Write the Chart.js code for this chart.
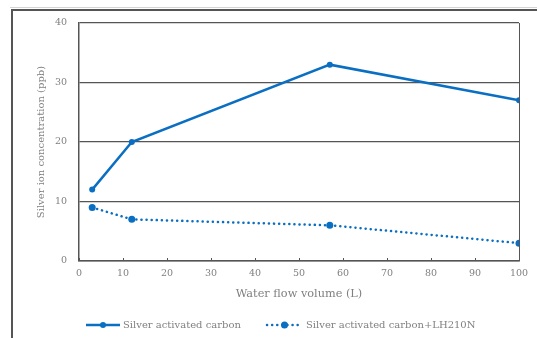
<!DOCTYPE html>
<html>
<head>
<meta charset="utf-8">
<script src="https://cdn.jsdelivr.net/npm/chart.js@4/dist/chart.umd.min.js"></script>
<style>
    html, body { margin: 0; padding: 0; background: #fff; }
    #wrap { position: relative; width: 537px; height: 338px; overflow: hidden; }
    #frameTop { position: absolute; left: 10px; top: 7px; width: 540px; height: 1px; background: #d4d4d4; }
    #frame { position: absolute; left: 11px; top: 9px; width: 540px; height: 340px; border-left: 2px solid #555; border-top: 2px solid #555; }
    #chart { position: absolute; left: 0; top: 0; }
</style>
</head>
<body>
<div id="wrap">
    <div id="frameTop"></div>
    <div id="frame"></div>
    <canvas id="chart" width="537" height="338"></canvas>
</div>
<script>
    // 資料
    const flowVolume = [3, 12, 57, 100];          // Water flow volume (L)
    const silverCarbon = [12, 20, 33, 27];        // Silver activated carbon
    const silverCarbonLH = [9, 7, 6, 3];          // Silver activated carbon+LH210N
    const xTickValues = [0, 10, 20, 30, 40, 50, 60, 70, 80, 90, 100];
    const yTickValues = [0, 10, 20, 30, 40];

    const blue = '#0a6fc2';
    const axisColor = '#555';
    const textColor = '#808080';
    const serif = '"DejaVu Serif", "Liberation Serif", serif';

    function toPoints(xs, ys) {
        return xs.map((x, i) => ({ x: x, y: ys[i] }));
    }

    // 內側刻度 + 圖例
    const extrasPlugin = {
        id: 'extras',
        afterDraw(chart) {
            const ctx = chart.ctx;
            const xScale = chart.scales.x;
            const area = chart.chartArea;
            ctx.save();
            ctx.strokeStyle = axisColor;
            ctx.lineWidth = 1;
            xScale.ticks.forEach(t => {
                const px = Math.round(xScale.getPixelForValue(t.value)) + 0.5;
                ctx.beginPath();
                ctx.moveTo(px, area.bottom);
                ctx.lineTo(px, area.bottom - 3);
                ctx.stroke();
            });

            // legend
            const legendY = 325;
            const items = [
                { ds: chart.data.datasets[0], x0: 86, x1: 120, textX: 123 },
                { ds: chart.data.datasets[1], x0: 267, x1: 302, textX: 306 }
            ];
            items.forEach(it => {
                ctx.strokeStyle = it.ds.borderColor;
                ctx.lineWidth = it.ds.borderWidth;
                ctx.lineCap = it.ds.borderCapStyle || 'butt';
                ctx.setLineDash(it.ds.borderDash || []);
                ctx.beginPath();
                ctx.moveTo(it.x0, legendY);
                ctx.lineTo(it.x1, legendY);
                ctx.stroke();
                ctx.setLineDash([]);
                ctx.fillStyle = it.ds.pointBackgroundColor;
                ctx.beginPath();
                ctx.arc((it.x0 + it.x1) / 2, legendY, it.ds.pointRadius, 0, Math.PI * 2);
                ctx.fill();
                ctx.fillStyle = textColor;
                ctx.font = '10px ' + serif;
                ctx.textBaseline = 'middle';
                ctx.textAlign = 'left';
                ctx.fillText(it.ds.label, it.textX, legendY);
            });
            ctx.restore();
        }
    };

    new Chart(document.getElementById('chart'), {
        type: 'line',
        data: {
            datasets: [{
                label: 'Silver activated carbon',
                data: toPoints(flowVolume, silverCarbon),
                borderColor: blue,
                backgroundColor: blue,
                pointBackgroundColor: blue,
                pointBorderWidth: 0,
                pointRadius: 3,
                borderWidth: 2.5,
                tension: 0
            }, {
                label: 'Silver activated carbon+LH210N',
                data: toPoints(flowVolume, silverCarbonLH),
                borderColor: blue,
                backgroundColor: blue,
                pointBackgroundColor: blue,
                pointBorderWidth: 0,
                pointRadius: 3.5,
                borderWidth: 2.5,
                borderDash: [0.1, 5],
                borderCapStyle: 'round',
                tension: 0
            }]
        },
        options: {
            responsive: false,
            animation: false,
            layout: { padding: { left: 30, top: 23, right: 18, bottom: 37 } },
            plugins: {
                legend: { display: false },
                tooltip: { enabled: false }
            },
            scales: {
                x: {
                    type: 'linear',
                    min: 0,
                    max: 100,
                    afterBuildTicks: scale => { scale.ticks = xTickValues.map(v => ({ value: v })); },
                    afterFit: scale => { scale.height = 40; },
                    ticks: { color: textColor, font: { family: serif, size: 9.5 }, padding: 7, maxRotation: 0 },
                    grid: {
                        drawTicks: false,
                        color: c => (c.tick && c.tick.value === 100) ? axisColor : 'rgba(0,0,0,0)'
                    },
                    border: { color: axisColor, width: 1.5 },
                    title: {
                        display: true,
                        text: 'Water flow volume (L)',
                        color: textColor,
                        font: { family: serif, size: 11.3 },
                        padding: { top: 0, bottom: 0 }
                    }
                },
                y: {
                    min: 0,
                    max: 40,
                    afterBuildTicks: scale => { scale.ticks = yTickValues.map(v => ({ value: v })); },
                    afterFit: scale => { scale.width = 49; },
                    ticks: { color: textColor, font: { family: serif, size: 9.5 }, padding: 12 },
                    grid: { drawTicks: false, color: axisColor, lineWidth: 1.2 },
                    border: { color: axisColor, width: 1.5 },
                    title: {
                        display: true,
                        text: 'Silver ion concentration (ppb)',
                        color: textColor,
                        font: { family: serif, size: 10 },
                        padding: { top: 5, bottom: 4 }
                    }
                }
            }
        },
        plugins: [extrasPlugin]
    });
</script>
</body>
</html>
